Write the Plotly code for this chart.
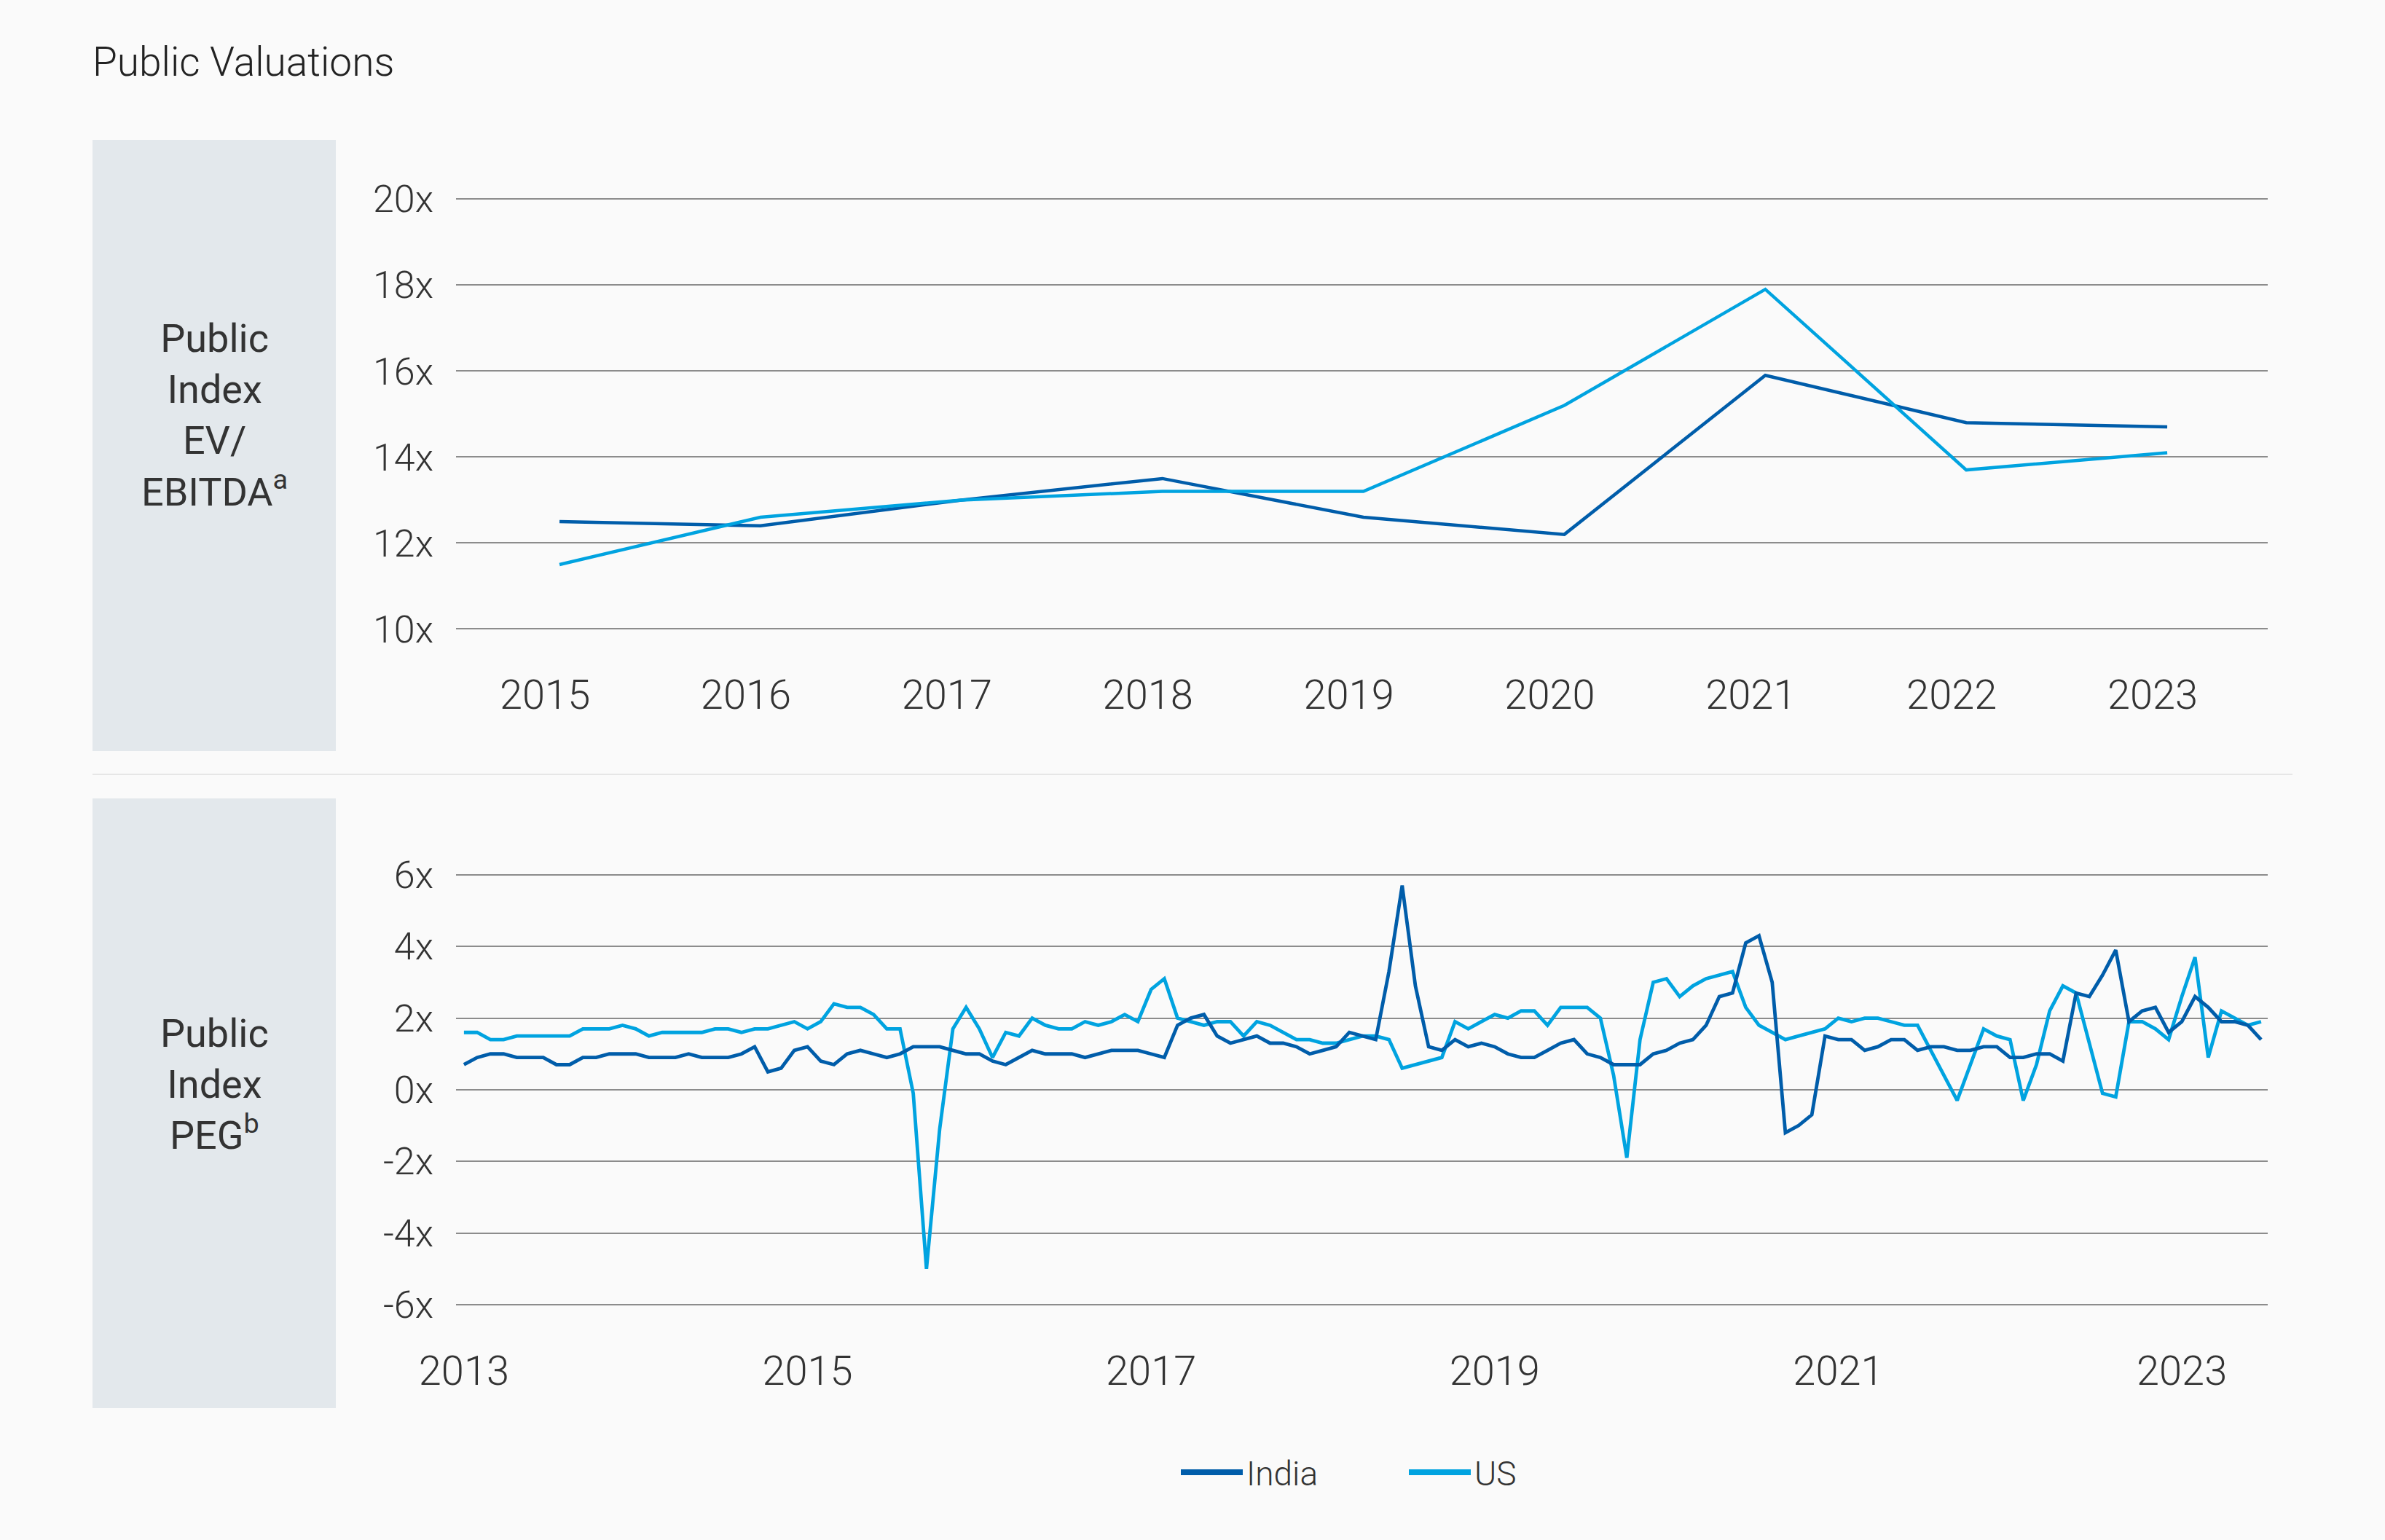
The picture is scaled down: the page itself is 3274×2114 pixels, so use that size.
import plotly.graph_objects as go

# ---------------- data ----------------
years = [2015, 2016, 2017, 2018, 2019, 2020, 2021, 2022, 2023]
india_ev = [12.5, 12.4, 13.0, 13.5, 12.6, 12.2, 15.9, 14.8, 14.7]
us_ev = [11.5, 12.6, 13.0, 13.2, 13.2, 15.2, 17.9, 13.7, 14.1]

india_peg = [
    0.7, 0.9, 1.0, 1.0, 0.9, 0.9, 0.9, 0.7, 0.7, 0.9, 0.9, 1.0, 1.0, 1.0,
    0.9, 0.9, 0.9, 1.0, 0.9, 0.9, 0.9, 1.0, 1.2, 0.5, 0.6, 1.1, 1.2, 0.8,
    0.7, 1.0, 1.1, 1.0, 0.9, 1.0, 1.2, 1.2, 1.2, 1.1, 1.0, 1.0, 0.8, 0.7,
    0.9, 1.1, 1.0, 1.0, 1.0, 0.9, 1.0, 1.1, 1.1, 1.1, 1.0, 0.9, 1.8,
    2.0, 2.1, 1.5, 1.3, 1.4, 1.5, 1.3, 1.3, 1.2, 1.0, 1.1, 1.2, 1.6, 1.5,
    1.4, 3.3, 5.7, 2.9, 1.2, 1.1, 1.4, 1.2, 1.3, 1.2, 1.0, 0.9, 0.9, 1.1,
    1.3, 1.4, 1.0, 0.9, 0.7, 0.7, 0.7, 1.0, 1.1, 1.3, 1.4, 1.8, 2.6, 2.7,
    4.1, 4.3, 3.0, -1.2, -1.0, -0.7, 1.5, 1.4, 1.4, 1.1, 1.2, 1.4, 1.4,
    1.1, 1.2, 1.2, 1.1, 1.1, 1.2, 1.2, 0.9, 0.9, 1.0, 1.0, 0.8, 2.7, 2.6,
    3.2, 3.9, 1.9, 2.2, 2.3, 1.6, 1.9, 2.6, 2.3, 1.9, 1.9, 1.8, 1.4,
]
us_peg = [
    1.6, 1.6, 1.4, 1.4, 1.5, 1.5, 1.5, 1.5, 1.5, 1.7, 1.7, 1.7, 1.8, 1.7,
    1.5, 1.6, 1.6, 1.6, 1.6, 1.7, 1.7, 1.6, 1.7, 1.7, 1.8, 1.9, 1.7, 1.9,
    2.4, 2.3, 2.3, 2.1, 1.7, 1.7, -0.1, -5.0, -1.1, 1.7, 2.3, 1.7, 0.9, 1.6,
    1.5, 2.0, 1.8, 1.7, 1.7, 1.9, 1.8, 1.9, 2.1, 1.9, 2.8, 3.1, 2.0,
    1.9, 1.8, 1.9, 1.9, 1.5, 1.9, 1.8, 1.6, 1.4, 1.4, 1.3, 1.3, 1.4, 1.5,
    1.5, 1.4, 0.6, 0.7, 0.8, 0.9, 1.9, 1.7, 1.9, 2.1, 2.0, 2.2, 2.2, 1.8,
    2.3, 2.3, 2.3, 2.0, 0.4, -1.9, 1.4, 3.0, 3.1, 2.6, 2.9, 3.1, 3.2, 3.3,
    2.3, 1.8, 1.6, 1.4, 1.5, 1.6, 1.7, 2.0, 1.9, 2.0, 2.0, 1.9, 1.8,
    1.8, 1.1, 0.4, -0.3, 0.7, 1.7, 1.5, 1.4, -0.3, 0.7, 2.2, 2.9, 2.7, 1.3,
    -0.1, -0.2, 1.9, 1.9, 1.7, 1.4, 2.6, 3.7, 0.9, 2.2, 2.0, 1.8, 1.9,
]
peg_tick_labels = ["2013", "2015", "2017", "2019", "2021", "2023"]
peg_tick_step = 26
ev_y_ticks = [10, 12, 14, 16, 18, 20]
peg_y_ticks = [-6, -4, -2, 0, 2, 4, 6]
series_names = ["India", "US"]

# ---------------- style ----------------
W, H = 3274, 2114
INDIA_C = "#005DAA"
US_C = "#00A3E0"
GRID_C = "#8C8C8C"
TEXT_C = "#333333"
PANEL_C = "#E3E8EC"
BG = "#FAFAFA"
FONT = "Roboto"


def fx(px):
    return px / W


def fy(px):
    return 1 - px / H


def y_layout(top_px, bottom_px, lo, hi, pad):
    k = (bottom_px - top_px) / (hi - lo)
    return [fy(bottom_px + pad * k), fy(top_px - pad * k)], [lo - pad, hi + pad]


ev_dom, ev_rng = y_layout(273.2, 863.5, min(ev_y_ticks), max(ev_y_ticks), 0.05)
peg_dom, peg_rng = y_layout(1200.9, 1790.9, min(peg_y_ticks), max(peg_y_ticks), 0.06)

peg_x = list(range(len(india_peg)))

fig = go.Figure()
# top chart
fig.add_trace(go.Scatter(x=years, y=india_ev, mode="lines", name=series_names[0],
                         line=dict(color=INDIA_C, width=4.5), xaxis="x", yaxis="y",
                         showlegend=False))
fig.add_trace(go.Scatter(x=years, y=us_ev, mode="lines", name=series_names[1],
                         line=dict(color=US_C, width=4.5), xaxis="x", yaxis="y",
                         showlegend=False))
# bottom chart
fig.add_trace(go.Scatter(x=peg_x, y=us_peg, mode="lines", name=series_names[1],
                         line=dict(color=US_C, width=4.8), xaxis="x2", yaxis="y2",
                         showlegend=False))
fig.add_trace(go.Scatter(x=peg_x, y=india_peg, mode="lines", name=series_names[0],
                         line=dict(color=INDIA_C, width=4.8), xaxis="x2", yaxis="y2",
                         showlegend=False))
# legend entries
for nm, col in zip(series_names, [INDIA_C, US_C]):
    fig.add_trace(go.Scatter(x=[None], y=[None], mode="lines", name=nm,
                             line=dict(color=col, width=8), xaxis="x2", yaxis="y2",
                             showlegend=True))

tick_font = dict(family=FONT, size=52, color=TEXT_C, weight=300)
xtick_font = dict(family=FONT, size=56, color=TEXT_C, weight=300)

axis_common = dict(showline=False, zeroline=False, ticks="", fixedrange=True,
                   automargin=False)

fig.update_layout(
    template="none",
    width=W, height=H,
    margin=dict(l=0, r=0, t=0, b=0, pad=0, autoexpand=False),
    paper_bgcolor=BG, plot_bgcolor=BG,
    font=dict(family=FONT, color=TEXT_C, weight=300),
    xaxis=dict(domain=[fx(626), fx(3113)], range=[2014.485, 2023.5],
               tickvals=years, ticktext=[str(y) for y in years],
               showgrid=False, tickfont=xtick_font, ticklabelshift=-20,
               ticklabelstandoff=50, anchor="y", **axis_common),
    yaxis=dict(domain=ev_dom, range=ev_rng,
               tickvals=ev_y_ticks, ticktext=[f"{v}x" for v in ev_y_ticks],
               showgrid=True, gridcolor=GRID_C, gridwidth=2,
               tickfont=tick_font, ticklabelstandoff=30, anchor="x", **axis_common),
    xaxis2=dict(domain=[fx(626), fx(3113)], range=[-0.6, 136.5],
                tickvals=list(range(0, len(india_peg), peg_tick_step)),
                ticktext=peg_tick_labels,
                showgrid=False, tickfont=xtick_font,
                ticklabelstandoff=50, anchor="y2", **axis_common),
    yaxis2=dict(domain=peg_dom, range=peg_rng,
                tickvals=peg_y_ticks, ticktext=[f"{v}x" for v in peg_y_ticks],
                showgrid=True, gridcolor=GRID_C, gridwidth=2,
                tickfont=tick_font, ticklabelstandoff=30, anchor="x2", **axis_common),
    showlegend=True,
    legend=dict(orientation="h", x=fx(1616), xanchor="left", y=fy(2021),
                yanchor="middle", font=dict(family=FONT, size=46, color=TEXT_C, weight=300),
                itemwidth=85, entrywidth=213, bgcolor="rgba(0,0,0,0)", borderwidth=0),
    shapes=[
        dict(type="rect", xref="paper", yref="paper", x0=fx(127), x1=fx(461),
             y0=fy(1031), y1=fy(192), fillcolor=PANEL_C, line=dict(width=0), layer="below"),
        dict(type="rect", xref="paper", yref="paper", x0=fx(127), x1=fx(461),
             y0=fy(1933), y1=fy(1096), fillcolor=PANEL_C, line=dict(width=0), layer="below"),
        dict(type="line", xref="paper", yref="paper", x0=fx(127), x1=fx(3147),
             y0=fy(1063), y1=fy(1063), line=dict(color="#E6E6E6", width=2), layer="below"),
    ],
    annotations=[
        dict(text="Public Valuations", xref="paper", yref="paper", x=fx(125), y=fy(85),
             xanchor="left", yanchor="middle", showarrow=False,
             font=dict(family=FONT, size=55, color="#222222", weight=300)),
        dict(text="Public<br>Index<br>EV/<br>EBITDA<sup>a</sup>", xref="paper", yref="paper",
             x=fx(294), y=fy(570), xanchor="center", yanchor="middle", align="center",
             showarrow=False, font=dict(family=FONT, size=54, color=TEXT_C, weight=400)),
        dict(text="Public<br>Index<br>PEG<sup>b</sup>", xref="paper", yref="paper",
             x=fx(294), y=fy(1488), xanchor="center", yanchor="middle", align="center",
             showarrow=False, font=dict(family=FONT, size=54, color=TEXT_C, weight=400)),
    ],
)

fig.write_html("out.html", config={"displayModeBar": False},
               post_script="document.body.style.margin='0';")
